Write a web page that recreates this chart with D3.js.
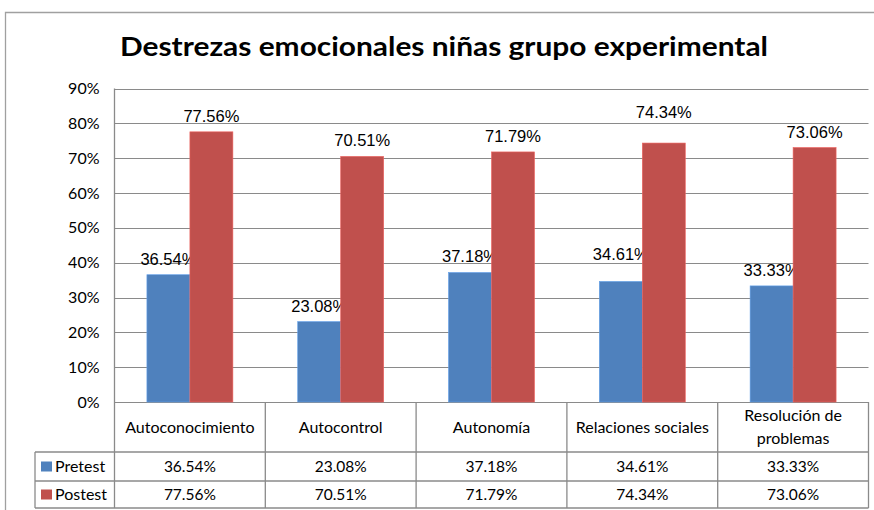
<!DOCTYPE html>
<html>
<head>
<meta charset="utf-8">
<script src="https://cdn.jsdelivr.net/npm/d3@7"></script>
<style>
  html, body { margin: 0; padding: 0; background: #fff; }
  svg { display: block; }
</style>
</head>
<body>
<div id="chart"></div>
<script>
// ── data ──
const categories = ["Autoconocimiento", "Autocontrol", "Autonomía", "Relaciones sociales", "Resolución de problemas"];
const categoryLines = [["Autoconocimiento"], ["Autocontrol"], ["Autonomía"], ["Relaciones sociales"], ["Resolución de", "problemas"]];
const seriesNames = ["Pretest", "Postest"];
const pretest = [36.54, 23.08, 37.18, 34.61, 33.33];
const postest = [77.56, 70.51, 71.79, 74.34, 73.06];
const yTicks = [0, 10, 20, 30, 40, 50, 60, 70, 80, 90];
const colors = ["#4F81BD", "#C0504D"];
// extra lift (px) for labels that were moved in the original
const labelLift = [[0, 0, 0, 11, 0], [0, 0, 0, 15, 0]];

const width = 874, height = 510;
const plot = { left: 114.5, right: 868.5, top: 88.5, bottom: 402 };
const rowCat = 452, rowPre = 481, rowPost = 508, tableLeft = 35;
const gridColor = "#8a8a8a";
const calibri = "Lato, 'Noto Sans', sans-serif";
const arial = "'Liberation Sans', Arial, sans-serif";

const svg = d3.select("#chart").append("svg")
  .attr("width", width).attr("height", height);

// outer chart border
svg.append("path")
  .attr("d", `M5.5,${height + 2} V12.5 H${width + 2}`)
  .attr("fill", "none").attr("stroke", "#a0a0a0").attr("stroke-width", 1.3);

// title
svg.append("text")
  .attr("x", 444).attr("y", 56)
  .attr("text-anchor", "middle")
  .attr("textLength", 648).attr("lengthAdjust", "spacingAndGlyphs")
  .style("font-family", calibri).style("font-weight", "bold").style("font-size", "27px")
  .text("Destrezas emocionales niñas grupo experimental");

const y = d3.scaleLinear().domain([0, 90]).range([plot.bottom, plot.top]);
const x0 = d3.scaleBand().domain(categories).range([plot.left, plot.right]).padding(0);
const x1 = d3.scaleBand().domain(seriesNames).range([0, x0.bandwidth()])
  .paddingInner(0).paddingOuter(0.754);

// gridlines
svg.append("g").selectAll("line").data(yTicks).join("line")
  .attr("x1", plot.left).attr("x2", plot.right)
  .attr("y1", d => Math.round(y(d)) + 0.5).attr("y2", d => Math.round(y(d)) + 0.5)
  .attr("stroke", gridColor).attr("stroke-width", 1);

// y axis labels
svg.append("g").selectAll("text").data(yTicks).join("text")
  .attr("x", plot.left - 15).attr("y", d => y(d) + 5.5)
  .attr("text-anchor", "end")
  .style("font-family", calibri).style("font-size", "16px").attr("fill", "#000")
  .text(d => d + "%");

// bars
const seriesData = [pretest, postest];
seriesNames.forEach((s, si) => {
  const g = svg.append("g");
  g.selectAll("rect").data(categories).join("rect")
    .attr("x", d => x0(d) + x1(s))
    .attr("y", (d, i) => y(seriesData[si][i]))
    .attr("width", x1.bandwidth())
    .attr("height", (d, i) => y(0) - y(seriesData[si][i]))
    .attr("fill", colors[si])
    .attr("stroke", d3.color(colors[si]).brighter(0.6)).attr("stroke-width", 0.6);

  g.selectAll("text").data(categories).join("text")
    .attr("x", d => x0(d) + x1(s) + x1.bandwidth() / 2)
    .attr("y", (d, i) => y(seriesData[si][i]) - 10 - labelLift[si][i])
    .attr("text-anchor", "middle")
    .style("font-family", arial).style("font-size", "16.5px").attr("fill", "#000")
    .text((d, i) => seriesData[si][i].toFixed(2) + "%");
});

// ── data table ──
const table = svg.append("g").attr("stroke", gridColor).attr("stroke-width", 1.3).attr("fill", "none");
// y axis line continuing down through the table
table.append("line").attr("x1", plot.left).attr("x2", plot.left).attr("y1", plot.top).attr("y2", rowPost);
// category boundaries
table.selectAll(".vline").data(categories).join("line").attr("class", "vline")
  .attr("x1", d => x0(d) + x0.bandwidth()).attr("x2", d => x0(d) + x0.bandwidth())
  .attr("y1", plot.bottom).attr("y2", rowPost);
// horizontal rows
[rowCat, rowPre, rowPost].forEach(ry => {
  table.append("line").attr("x1", tableLeft).attr("x2", plot.right).attr("y1", ry).attr("y2", ry);
});
table.append("line").attr("x1", tableLeft).attr("x2", tableLeft).attr("y1", rowCat).attr("y2", rowPost);

// category labels
const catText = svg.append("g").selectAll("text").data(categories).join("text")
  .attr("text-anchor", "middle")
  .style("font-family", calibri).style("font-size", "16px").attr("fill", "#000");
catText.each(function (d, i) {
  const lines = categoryLines[i];
  const cx = x0(d) + x0.bandwidth() / 2;
  const mid = (plot.bottom + rowCat) / 2;
  const lh = 23;
  lines.forEach((ln, li) => {
    d3.select(this).append("tspan")
      .attr("x", cx)
      .attr("y", mid + 5.5 + (li - (lines.length - 1) / 2) * lh)
      .text(ln);
  });
});

// value rows
const rows = [{ top: rowCat, bottom: rowPre }, { top: rowPre, bottom: rowPost }];
seriesNames.forEach((s, si) => {
  const mid = (rows[si].top + rows[si].bottom) / 2;
  svg.append("g").selectAll("text").data(categories).join("text")
    .attr("x", d => x0(d) + x0.bandwidth() / 2)
    .attr("y", mid + 5.5)
    .attr("text-anchor", "middle")
    .style("font-family", calibri).style("font-size", "15.5px").attr("fill", "#000")
    .text((d, i) => seriesData[si][i].toFixed(2) + "%");

  // legend key
  svg.append("rect")
    .attr("x", 41).attr("y", mid - 5).attr("width", 11).attr("height", 10)
    .attr("fill", colors[si]);
  svg.append("text")
    .attr("x", 55).attr("y", mid + 5.5)
    .style("font-family", calibri).style("font-size", "16px").attr("fill", "#000")
    .text(s);
});
</script>
</body>
</html>
